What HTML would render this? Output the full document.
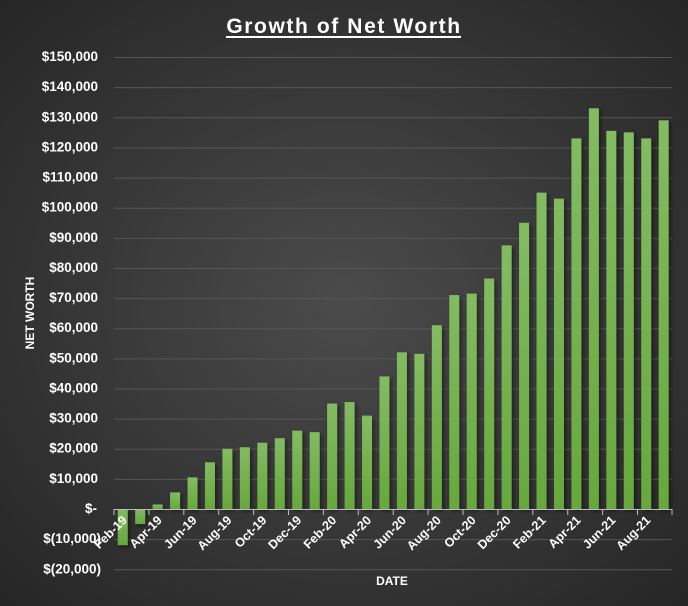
<!DOCTYPE html>
<html><head><meta charset="utf-8"><style>
html,body{margin:0;padding:0;background:#333;}
svg{display:block;font-family:"Liberation Sans",sans-serif;}
</style></head><body>
<svg width="688" height="606" viewBox="0 0 688 606" xmlns="http://www.w3.org/2000/svg">
<defs>
<radialGradient id="bg" cx="0.5" cy="0.5" r="0.7">
<stop offset="0" stop-color="#4b4b4b"/><stop offset="1" stop-color="#262626"/>
</radialGradient>
<linearGradient id="bar" x1="0" y1="0" x2="0" y2="1">
<stop offset="0" stop-color="#83bb62"/><stop offset="1" stop-color="#66a83c"/>
</linearGradient>
<filter id="sh" x="-50%" y="-10%" width="200%" height="130%"><feDropShadow dx="2" dy="2" stdDeviation="2" flood-color="#000" flood-opacity="0.5"/></filter>
</defs>
<rect width="688" height="606" fill="url(#bg)"/>
<text x="344" y="33" text-anchor="middle" fill="#fff" font-size="21" font-weight="bold" letter-spacing="1.6">Growth of Net Worth</text>
<rect x="226" y="36" width="235" height="2" fill="#fff"/>
<g id="grid" stroke="#565656" stroke-width="1"></g>
<g id="ylab" fill="#fff" font-size="13.5" font-weight="bold"></g>
<g id="bars" filter="url(#sh)"></g>
<line x1="114" y1="509.5" x2="672" y2="509.5" stroke="#bbb" stroke-width="1"/>
<g id="ticks" stroke="#bbb"></g>
<g id="xlab" fill="#fff" font-size="12.5" font-weight="bold"></g>
<text x="34" y="313" transform="rotate(-90 34 313)" text-anchor="middle" fill="#fff" font-size="12" font-weight="bold">NET WORTH</text>
<text x="392" y="585" text-anchor="middle" fill="#fff" font-size="12" font-weight="bold">DATE</text>
</svg>
<script>
var ns="http://www.w3.org/2000/svg";
function el(p,t,a,tx){var e=document.createElementNS(ns,t);for(var k in a)e.setAttribute(k,a[k]);if(tx)e.textContent=tx;document.getElementById(p).appendChild(e);}
var z=509,s=3.013;
for(var v=-20;v<=150;v+=10){var y=z-v*s;
 if(v!=0)el("grid","line",{x1:114,x2:672,y1:y+0.5,y2:y+0.5});
 var t;
 if(v==0){el("ylab","text",{x:85,y:y+4},"$-");continue;}
 var n=Math.abs(v)+",000";
 t=v<0?"$("+n+")":"$"+n;
 el("ylab","text",{x:v<0?101:98,y:y+4,"text-anchor":"end"},t);}
var d=[-12,-5,1.5,5.5,10.5,15.5,20,20.5,22,23.5,26,25.5,35,35.5,31,44,52,51.5,61,71,71.5,76.5,87.5,95,105,103,123,133,125.5,125,123,129];
var w=17.45;
var m=["Feb","Mar","Apr","May","Jun","Jul","Aug","Sep","Oct","Nov","Dec","Jan"];
for(var i=0;i<32;i++){var cx=114+w*(i+0.5),h=d[i]*s;
 el("bars","rect",{x:cx-5,y:h>=0?z-h:z,width:10,height:Math.abs(h)});
 document.getElementById("bars").lastChild.setAttribute("fill","url(#bar)");
 if(i%2==0){var tx=114+w*i;el("ticks","line",{x1:tx,x2:tx,y1:509,y2:515});
  var yr=19+Math.floor((i+1)/12);var lab=m[i%12]+"-"+yr;
  var ax=cx+5,ay=521;
  el("xlab","text",{x:ax,y:ay,"text-anchor":"end",transform:"rotate(-45 "+ax+" "+ay+")"},lab);}
}
el("ticks","line",{x1:672,x2:672,y1:509,y2:515});
</script>
</body></html>
